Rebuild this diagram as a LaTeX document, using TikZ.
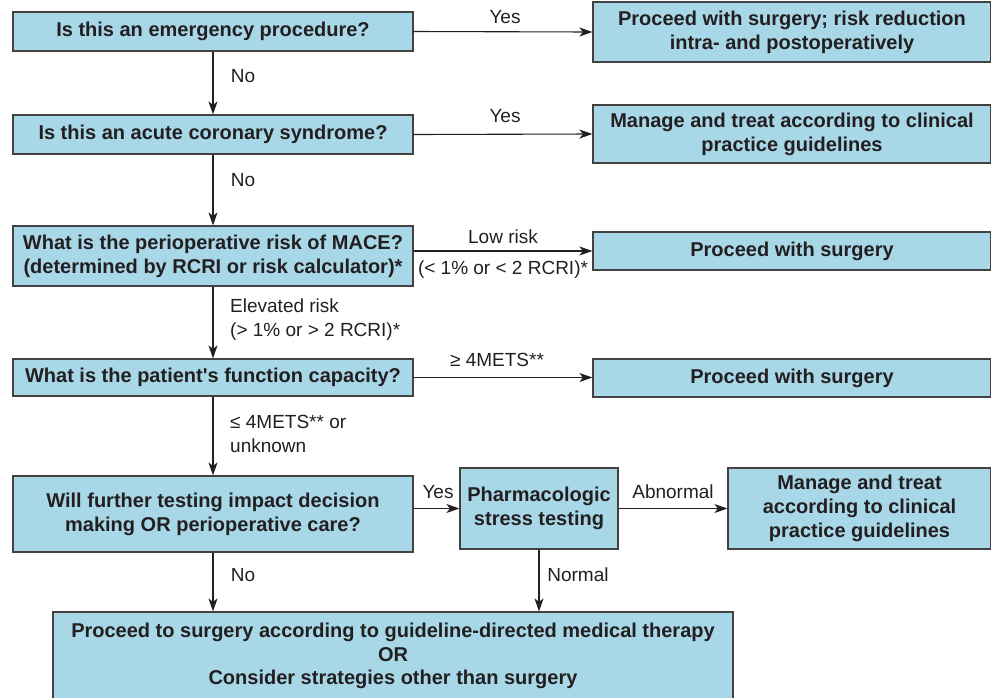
\documentclass[tikz,border=0pt]{standalone}
\usepackage{fontspec}
\setmainfont[Ligatures=TeXOff]{Liberation Sans}
\usetikzlibrary{arrows.meta}
\definecolor{boxfill}{RGB}{168,216,232}
\definecolor{ink}{RGB}{35,31,32}
\begin{document}
\begin{tikzpicture}[x=1pt,y=-1pt,
  box/.style={draw=ink!85, line width=1.2pt, fill=boxfill, align=center,
    font=\bfseries\fontsize{20}{24}\selectfont, text=ink, inner sep=0pt},
  lbl/.style={font=\fontsize{19}{24}\selectfont, text=ink, inner sep=0pt},
  arr/.style={draw=ink, line width=1.1pt, -{Stealth[length=13pt,width=9pt,inset=3.5pt]}}]
\useasboundingbox (0,0) rectangle (991,697);
% boxes
\node[box, minimum width=400pt, minimum height=39pt] (q1) at (213,31.5) {Is this an emergency procedure?};
\node[box, minimum width=398pt, minimum height=60pt] (r1) at (792,32) {Proceed with surgery; risk reduction\\intra- and postoperatively};
\node[box, minimum width=400pt, minimum height=39pt] (q2) at (213,134.5) {Is this an acute coronary syndrome?};
\node[box, minimum width=398pt, minimum height=58pt] (r2) at (792,134) {Manage and treat according to clinical\\practice guidelines};
\node[box, minimum width=400pt, minimum height=60pt] (q3) at (213,256) {What is the perioperative risk of MACE?\\(determined by RCRI or risk calculator)*};
\node[box, minimum width=398pt, minimum height=38pt] (r3) at (792,251) {Proceed with surgery};
\node[box, minimum width=400pt, minimum height=37pt] (q4) at (213,377.5) {What is the patient's function capacity?};
\node[box, minimum width=398pt, minimum height=38pt] (r4) at (792,378) {Proceed with surgery};
\node[box, minimum width=400pt, minimum height=76pt] (q5) at (213,514) {Will further testing impact decision\\making OR perioperative care?};
\node[box, minimum width=158pt, minimum height=81pt] (ph) at (539,508.5) {Pharmacologic\\stress testing};
\node[box, minimum width=263pt, minimum height=81pt] (r5) at (859.5,508.5) {Manage and treat\\according to clinical\\practice guidelines};
\node[box, minimum width=680pt, minimum height=88pt, font=\bfseries\fontsize{20}{23.5}\selectfont] (fin) at (393,656) {Proceed to surgery according to guideline-directed medical therapy\\OR\\Consider strategies other than surgery};
% connectors
\draw[arr] (q1.east) -- (r1.west);
\draw[arr] (q2.east) -- (r2.west);
\draw[arr] (r3.west -| q3.east) -- (r3.west);
\draw[arr] (q4.east) -- (q4.east -| r4.west);
\draw[arr] (ph.west -| q5.east) -- (ph.west);
\draw[arr] (ph.east) -- (r5.west);
\draw[arr] (q1.south) -- (q2.north);
\draw[arr] (q2.south) -- (q3.north);
\draw[arr] (q3.south) -- (q4.north);
\draw[arr] (q4.south) -- (q5.north);
\draw[arr] (q5.south) -- (fin.north -| q5.south);
\draw[arr] (ph.south) -- (fin.north -| ph.south);
% labels
\node[lbl] (l1) at (505,17) {Yes};
\node[lbl] (l2) at (243,76) {No};
\node[lbl] (l3) at (505,116) {Yes};
\node[lbl] (l4) at (243,180) {No};
\node[lbl] (l5) at (503,237) {Low risk};
\node[lbl] (l6) at (503,270) {(< 1\% or < 2 RCRI)*};
\node[lbl, anchor=west, align=left] (l7) at (230,320) {Elevated risk\\(> 1\% or > 2 RCRI)*};
\node[lbl] (l8) at (497,360) {≥ 4METS**};
\node[lbl, anchor=west, align=left] (l9) at (230,434) {≤ 4METS** or\\unknown};
\node[lbl] (l10) at (438,492) {Yes};
\node[lbl] (l11) at (673,492) {Abnormal};
\node[lbl] (l12) at (243,575) {No};
\node[lbl] (l13) at (578,575) {Normal};
\end{tikzpicture}
\end{document}
